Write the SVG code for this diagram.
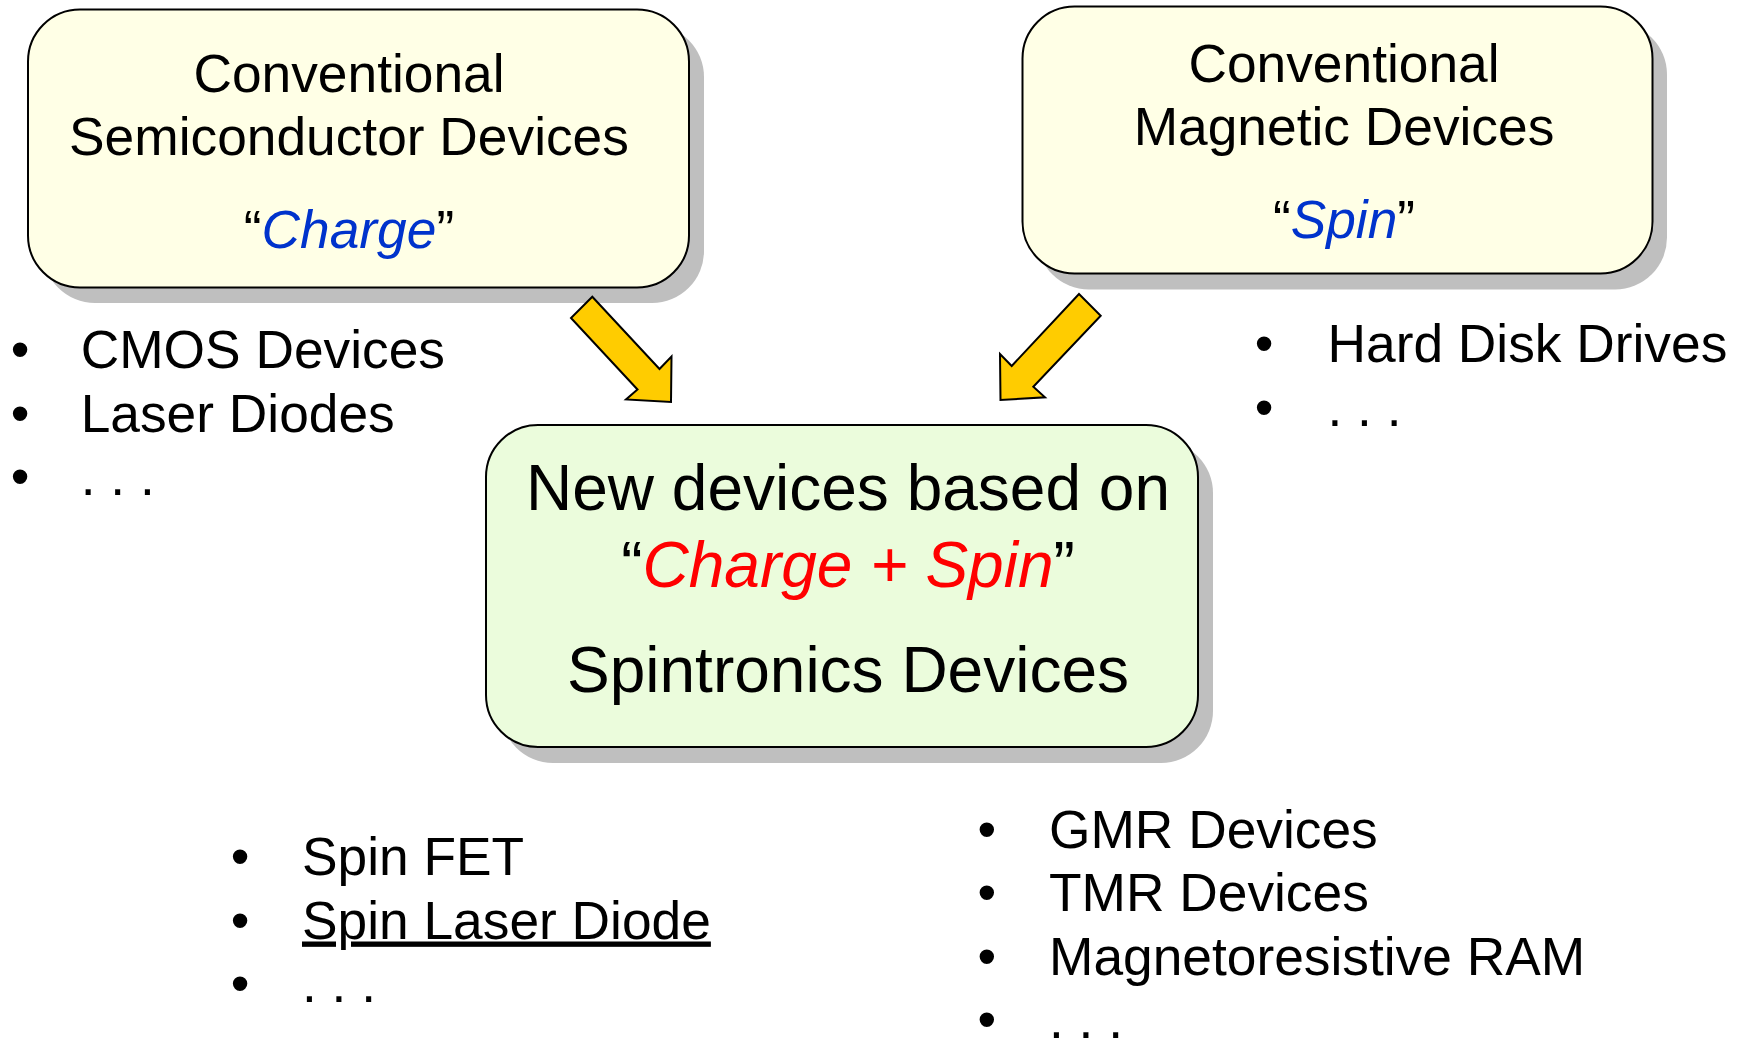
<svg xmlns="http://www.w3.org/2000/svg" width="1740" height="1043" viewBox="0 0 1740 1043">
<style>
text{font-family:"Liberation Sans",Arial,sans-serif;fill:#000}
.t{font-size:53.3px}
.c{text-anchor:middle}
.big{font-size:64px}
.shadow{fill:#BFBFBF}
.box{stroke:#000;stroke-width:2}
.y{fill:#FFFFE6}
.g{fill:#EBFCDC}
.blue{fill:#0033CC;font-style:italic}
.red{fill:#FF0000;font-style:italic}
.arrow{fill:#FFCC00;stroke:#000;stroke-width:2;stroke-linejoin:miter}
</style>
<rect width="1740" height="1043" fill="#fff"/>
<g id="node-semiconductor">
<rect class="shadow" x="43" y="25" width="661" height="278" rx="52"/>
<rect class="box y" x="28" y="9.5" width="661" height="278" rx="52"/>
<text class="t c" x="349" y="92">Conventional</text>
<text class="t c" x="349" y="155">Semiconductor Devices</text>
<text class="t c" x="349" y="248">“<tspan class="blue">Charge</tspan>”</text>
</g>
<g id="node-magnetic">
<rect class="shadow" x="1037" y="22.5" width="630" height="267" rx="52"/>
<rect class="box y" x="1022.5" y="6.5" width="630" height="267" rx="52"/>
<text class="t c" x="1344" y="82">Conventional</text>
<text class="t c" x="1344" y="145">Magnetic Devices</text>
<text class="t c" x="1344" y="238">“<tspan class="blue">Spin</tspan>”</text>
</g>
<g id="node-spintronics">
<rect class="shadow" x="501" y="441" width="712" height="322" rx="52"/>
<rect class="box g" x="486" y="425" width="712" height="322" rx="52"/>
<text class="big c" x="848" y="510">New devices based on</text>
<text class="big c" x="848" y="587">“<tspan class="red">Charge + Spin</tspan>”</text>
<text class="big c" x="848" y="692">Spintronics Devices</text>
</g>
<g id="connectors">
<polygon class="arrow" points="592.3,296.7 571,318 637.5,389.5 626,399.5 671,402 671.5,356.5 659.5,369"/>
<polygon class="arrow" points="1079,294 1100.7,315.7 1033.3,386.7 1045,397.3 1000.5,400 1000,354 1011.7,366"/>
</g>
<g id="list-semiconductor" class="t">
<text x="10.7" y="368">•</text><text x="80.7" y="368">CMOS Devices</text>
<text x="10.7" y="431.5">•</text><text x="80.7" y="431.5">Laser Diodes</text>
<text x="10.7" y="495">•</text><text x="80.7" y="495">. . .</text>
</g>
<g id="list-magnetic" class="t">
<text x="1254.7" y="362">•</text><text x="1327.5" y="362">Hard Disk Drives</text>
<text x="1254.7" y="425.5">•</text><text x="1327.5" y="425.5">. . .</text>
</g>
<g id="list-spintronics-left" class="t">
<text x="230.7" y="875">•</text><text x="302" y="875">Spin FET</text>
<text x="230.7" y="938.5">•</text><text x="302" y="938.5" text-decoration="underline">Spin Laser Diode</text>
<text x="230.7" y="1002">•</text><text x="302" y="1002">. . .</text>
</g>
<g id="list-spintronics-right" class="t">
<text x="977.4" y="847.5">•</text><text x="1049" y="847.5">GMR Devices</text>
<text x="977.4" y="911">•</text><text x="1049" y="911">TMR Devices</text>
<text x="977.4" y="974.5">•</text><text x="1049" y="974.5">Magnetoresistive RAM</text>
<text x="977.4" y="1038">•</text><text x="1049" y="1038">. . .</text>
</g>
</svg>
